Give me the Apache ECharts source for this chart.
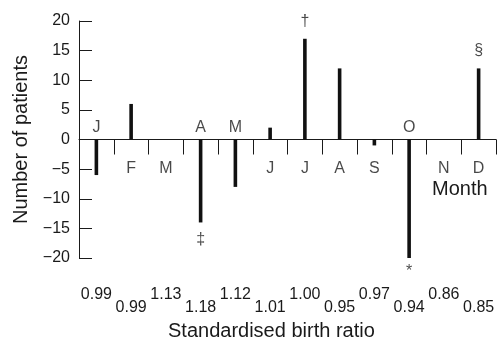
<!DOCTYPE html>
<html>
<head>
<meta charset="utf-8">
<script src="https://cdn.jsdelivr.net/npm/echarts@6/dist/echarts.min.js"></script>
<style>
html,body{margin:0;padding:0;background:#fff;}
#chart{width:501px;height:339px;}
</style>
</head>
<body>
<div id="chart"></div>
<script>
// Data
var months = ['J', 'F', 'M', 'A', 'M', 'J', 'J', 'A', 'S', 'O', 'N', 'D'];
var patients = [-6, 6, 0, -14, -8, 2, 17, 12, -1, -20, 0, 12];
var monthLabelAbove = [true, false, false, true, true, false, false, false, false, true, false, false];
var birthRatios = ['0.99', '0.99', '1.13', '1.18', '1.12', '1.01', '1.00', '0.95', '0.97', '0.94', '0.86', '0.85'];
var notes = ['', '', '', '\u2021', '', '', '\u2020', '', '', '*', '', '\u00a7'];
var yTicks = { min: -20, max: 20, interval: 5 };

var FONT = '"Liberation Sans", Arial, sans-serif';
var INK = '#1a1a1a';
var cats = months.map(function (m, i) { return i; });

var monthPoints = months.map(function (m, i) {
  var above = monthLabelAbove[i];
  return {
    value: [i, 0],
    label: {
      show: true,
      formatter: m,
      position: above ? 'top' : 'bottom',
      distance: above ? 3 : 21
    }
  };
});

var notePoints = [];
notes.forEach(function (n, i) {
  if (!n) return;
  var neg = patients[i] < 0;
  notePoints.push({
    value: [i, patients[i]],
    label: {
      show: true,
      formatter: n,
      position: neg ? 'bottom' : 'top',
      distance: n === '*' ? 5 : 9
    }
  });
});

var chart = echarts.init(document.getElementById('chart'), null, { renderer: 'canvas' });
chart.setOption({
  animation: false,
  backgroundColor: '#fff',
  textStyle: { fontFamily: FONT, color: INK },
  grid: { left: 79, right: 5, top: 21, bottom: 81, containLabel: false },
  xAxis: [
    {
      type: 'category',
      data: cats,
      boundaryGap: true,
      axisLine: { show: true, onZero: true, lineStyle: { color: INK, width: 1 } },
      axisTick: { show: true, inside: false, length: 15, alignWithLabel: false, lineStyle: { color: INK } },
      axisLabel: { show: false },
      splitLine: { show: false }
    },
    {
      type: 'category',
      data: cats,
      position: 'bottom',
      axisLine: { show: false, onZero: false },
      axisTick: { show: false },
      splitLine: { show: false },
      axisLabel: {
        show: true, interval: 0, margin: 29,
        fontFamily: FONT, fontSize: 16, color: INK,
        formatter: function (v, idx) { return idx % 2 === 0 ? birthRatios[idx] : ''; }
      }
    },
    {
      type: 'category',
      data: cats,
      position: 'bottom',
      axisLine: { show: false, onZero: false },
      axisTick: { show: false },
      splitLine: { show: false },
      axisLabel: {
        show: true, interval: 0, margin: 42,
        fontFamily: FONT, fontSize: 16, color: INK,
        formatter: function (v, idx) { return idx % 2 === 1 ? birthRatios[idx] : ''; }
      }
    }
  ],
  yAxis: {
    type: 'value',
    min: yTicks.min, max: yTicks.max, interval: yTicks.interval,
    name: 'Number of patients',
    nameLocation: 'middle',
    nameGap: 47,
    nameTextStyle: { fontFamily: FONT, fontSize: 20, color: INK },
    axisLine: { show: true, lineStyle: { color: INK, width: 1 } },
    axisTick: { show: true, inside: true, length: 13, lineStyle: { color: INK } },
    axisLabel: {
      fontFamily: FONT, fontSize: 16, color: INK, margin: 9,
      formatter: function (v) { return String(v).replace('-', '\u2212'); }
    },
    splitLine: { show: false }
  },
  series: [
    {
      type: 'bar',
      data: patients,
      barWidth: 3.6,
      itemStyle: { color: '#111' },
      silent: true
    },
    {
      type: 'scatter',
      data: monthPoints,
      symbolSize: 1,
      itemStyle: { color: 'rgba(0,0,0,0)' },
      label: { fontFamily: FONT, fontSize: 16, color: INK },
      silent: true
    },
    {
      type: 'scatter',
      data: notePoints,
      symbolSize: 1,
      itemStyle: { color: 'rgba(0,0,0,0)' },
      label: { fontFamily: FONT, fontSize: 16, color: INK },
      silent: true
    }
  ],
  graphic: [
    {
      type: 'text', left: 432, top: 179,
      style: { text: 'Month', font: '20px ' + FONT, fill: INK }
    },
    {
      type: 'text', left: 168, top: 321,
      style: { text: 'Standardised birth ratio', font: '20px ' + FONT, fill: INK }
    }
  ]
});
</script>
</body>
</html>
